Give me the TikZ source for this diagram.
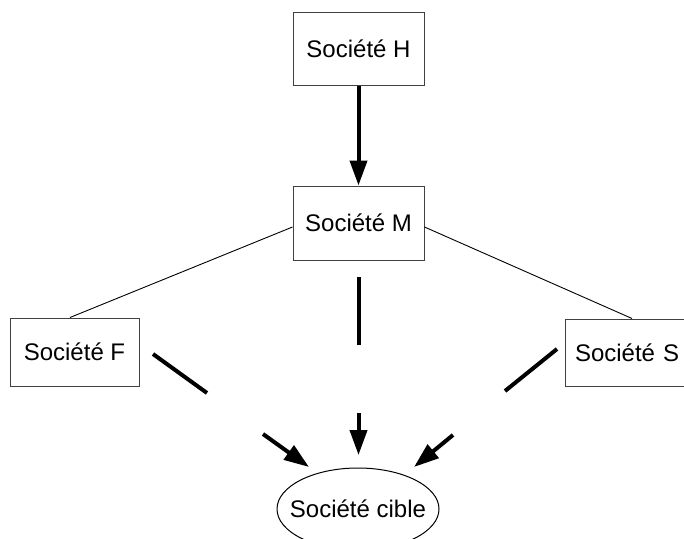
\documentclass[tikz,border=0pt]{standalone}
\usepackage{fontspec}
\setmainfont{Liberation Sans}
\usetikzlibrary{arrows.meta,shapes.geometric}
\begin{document}
\begin{tikzpicture}[x=1pt,y=-1pt,
  box/.style={draw=black!75,line width=1pt,rectangle,inner sep=0pt,
    font=\fontsize{24}{28}\selectfont},
  ovaltext/.style={inner sep=0pt,font=\fontsize{24}{28}\selectfont},
  thinlink/.style={draw=black,line width=0.9pt},
  thicklink/.style={draw=black,line width=4pt},
  thickarrow/.style={draw=black,line width=4pt,-{Triangle[length=25pt,width=17pt]}}]
\useasboundingbox (0,0) rectangle (684,538);
\node[box,minimum width=131pt,minimum height=73pt] (H) at (358.5,48.5) {Société H};
\node[box,minimum width=131pt,minimum height=74pt] (M) at (358.5,223) {Société M};
\node[box,minimum width=129pt,minimum height=68pt] (F) at (74.5,352) {Société F};
\node[box,minimum width=129pt,minimum height=67pt,text width=109pt,align=left] (S) at (629.5,352.5) {Société S};
\node[ovaltext] (C) at (358,509) {Société cible};
\draw[black,line width=1pt] (C.center) ellipse [x radius=81pt,y radius=41pt];
% H -> M
\draw[thickarrow] (H) -- (M);
% thin links
\draw[thinlink] ([yshift=-4pt]M.west) -- ([xshift=-4.5pt]F.north);
\draw[thinlink] ([yshift=-4pt]M.east) -- ([xshift=2.5pt]S.north);
% broken arrows
\coordinate (f1) at (153,354);
\coordinate (f2) at (207,393);
\coordinate (f3) at (263,434);
\coordinate (f4) at (309,467);
\coordinate (m1) at (358.5,277);
\coordinate (m2) at (358.5,345);
\coordinate (m3) at (358.5,413);
\coordinate (m4) at (358.5,455);
\coordinate (s1) at (557,349);
\coordinate (s2) at (505,391);
\coordinate (s3) at (453,435);
\coordinate (s4) at (414,467);
\draw[thicklink] (f1) -- (f2);
\draw[thickarrow] (f3) -- (f4);
\draw[thicklink] (m1) -- (m2);
\draw[thickarrow] (m3) -- (m4);
\draw[thicklink] (s1) -- (s2);
\draw[thickarrow] (s3) -- (s4);
\end{tikzpicture}
\end{document}
